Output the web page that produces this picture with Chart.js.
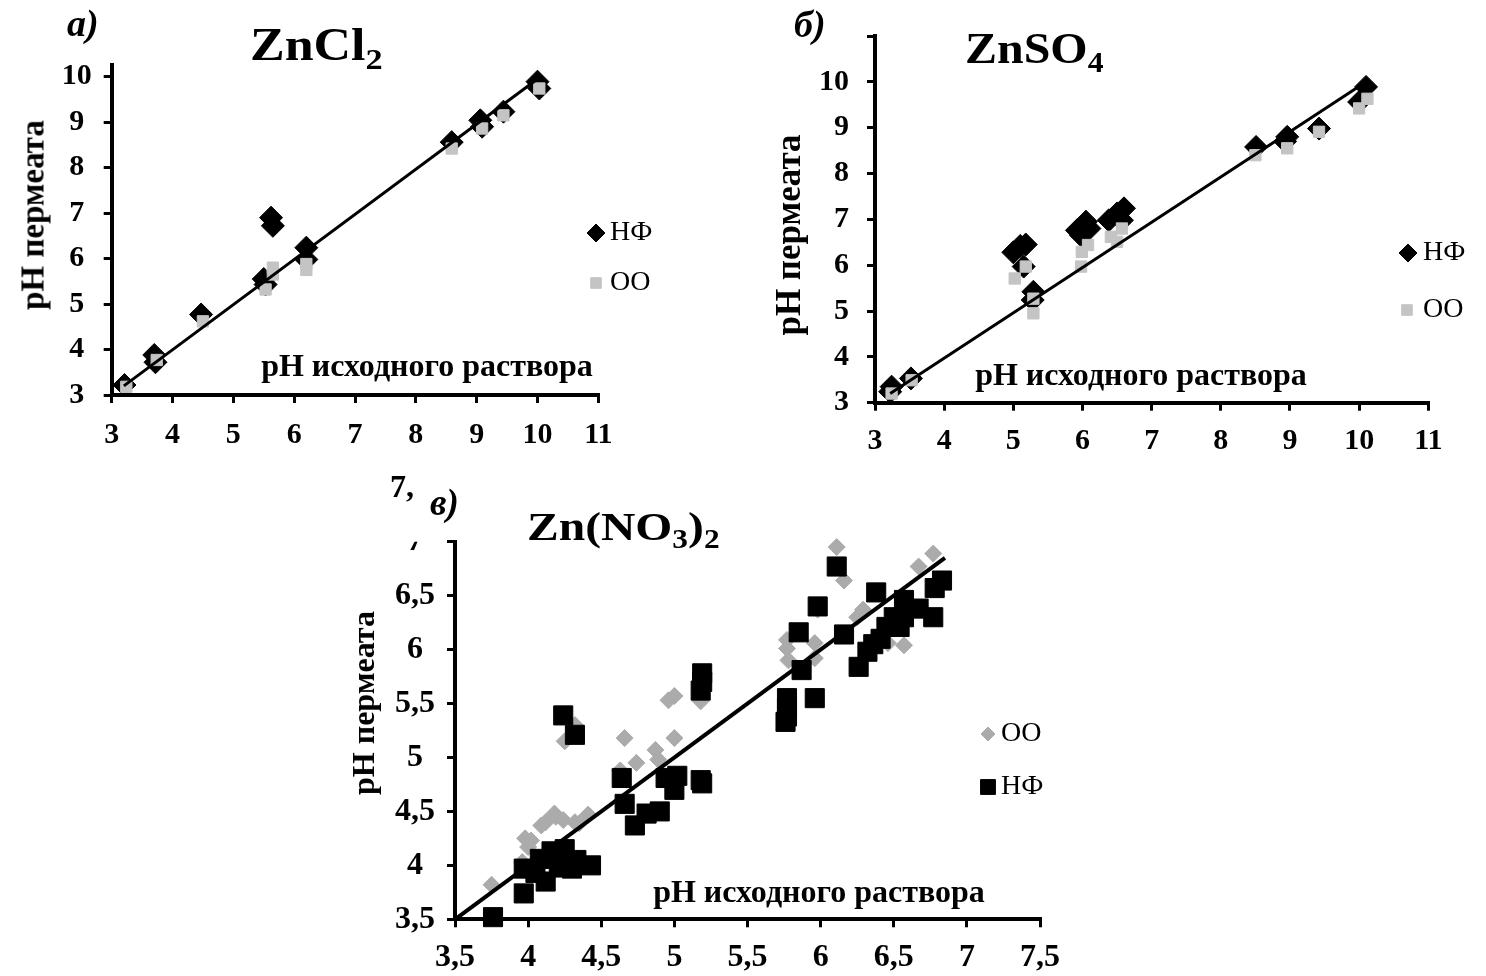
<!DOCTYPE html>
<html>
<head>
<meta charset="utf-8">
<script src="https://cdn.jsdelivr.net/npm/chart.js@4/dist/chart.umd.min.js"></script>
<style>
  html, body { margin: 0; padding: 0; background: #fff; }
  #page { position: relative; width: 1486px; height: 976px; overflow: hidden; background: #fff;
          font-family: 'Liberation Serif', 'Times New Roman', serif; color: #000; }
  #page canvas { position: absolute; left: 0; top: 0; }
  .t { position: absolute; white-space: nowrap; font-weight: bold; line-height: 1; z-index: 5; }
  .it { font-style: italic; }
  .sub { font-size: 0.66em; position: relative; top: 0.3em; }
  .cx { transform: translate(-50%, -50%); }
  .ry { transform: translate(-50%, -50%) rotate(-90deg); }
  .wide { transform-origin: 0 50%; }
</style>
</head>
<body>
<div id="page">
  <canvas id="cZnCl2" width="1486" height="976"></canvas>
  <canvas id="cZnSO4" width="1486" height="976"></canvas>
  <canvas id="cZnNO3" width="1486" height="976"></canvas>

  <!-- panel а -->
  <div class="t it" style="left:67px;top:4px;font-size:38px">а)</div>
  <div class="t wide" style="left:250px;top:22px;font-size:46px;transform:scaleX(1.13)">ZnCl<span class="sub">2</span></div>
  <div class="t ry" style="left:33px;top:215px;font-size:33px">pH пермеата</div>
  <div class="t cx" style="left:427px;top:365px;font-size:32px">pH исходного раствора</div>

  <!-- panel б -->
  <div class="t it" style="left:794px;top:5px;font-size:38px">б)</div>
  <div class="t wide" style="left:965px;top:27px;font-size:44px;transform:scaleX(1.09)">ZnSO<span class="sub">4</span></div>
  <div class="t ry" style="left:788px;top:235px;font-size:35px">pH пермеата</div>
  <div class="t cx" style="left:1141px;top:374px;font-size:32px">pH исходного раствора</div>

  <!-- panel в -->
  <div class="t" style="left:390px;top:470px;font-size:32px">7,</div>
  <div class="t it" style="left:430px;top:484px;font-size:37px">в)</div>
  <div class="t wide" style="left:527px;top:506px;font-size:41px;transform:scaleX(1.16)">Zn(NO<span class="sub">3</span>)<span class="sub">2</span></div>
  <div class="t ry" style="left:363px;top:703px;font-size:32px">pH пермеата</div>
  <div class="t cx" style="left:819px;top:891px;font-size:32px">pH исходного раствора</div>
</div>

<script>
// ---------- а) ZnCl2 ----------
const clNfX = [3.21, 3.70, 3.72, 4.47, 5.50, 5.53, 5.62, 5.65, 6.20, 6.20, 8.59, 9.06, 9.09, 9.44, 10.00, 10.03];
const clNfY = [3.22, 3.88, 3.72, 4.77, 5.55, 5.43, 6.90, 6.72, 6.24, 5.98, 8.56, 9.04, 8.90, 9.23, 9.89, 9.74];
const clOoX = [3.24, 3.74, 4.50, 5.53, 5.65, 5.65, 6.20, 6.20, 8.59, 9.09, 9.44, 10.03];
const clOoY = [3.18, 3.77, 4.62, 5.32, 5.80, 5.65, 5.88, 5.75, 8.42, 8.86, 9.15, 9.74];
const clFitX = [3.20, 10.00];
const clFitY = [3.20, 9.95];
const clTicksX = [3, 4, 5, 6, 7, 8, 9, 10, 11];
const clLabelsX = ['3', '4', '5', '6', '7', '8', '9', '10', '11'];
const clTicksY = [3, 4, 5, 6, 7, 8, 9, 10];
const clLabelsY = ['3', '4', '5', '6', '7', '8', '9', '10'];
const clYMax = 10.25;

// ---------- б) ZnSO4 ----------
const soNfX = [3.22, 3.24, 3.52, 5.00, 5.10, 5.18, 5.15, 5.29, 5.28, 5.92, 6.05, 5.98, 6.10, 6.38, 6.50, 6.60, 6.57, 8.51, 8.96, 8.93, 9.42, 10.00, 10.10];
const soNfY = [3.24, 3.35, 3.53, 6.28, 6.42, 6.45, 5.97, 5.42, 5.24, 6.76, 6.95, 6.65, 6.80, 6.98, 7.13, 7.24, 6.98, 8.58, 8.80, 8.70, 8.98, 9.56, 9.89];
const soOoX = [3.24, 3.53, 5.02, 5.18, 5.29, 5.29, 5.98, 5.99, 6.08, 6.41, 6.50, 6.57, 8.50, 8.96, 9.42, 10.00, 10.12];
const soOoY = [3.20, 3.49, 5.71, 5.97, 5.27, 4.95, 5.97, 6.29, 6.44, 6.62, 6.51, 6.80, 8.40, 8.55, 8.91, 9.42, 9.63];
const soFitX = [3.22, 10.03];
const soFitY = [3.20, 9.93];
const soTicksX = [3, 4, 5, 6, 7, 8, 9, 10, 11];
const soLabelsX = ['3', '4', '5', '6', '7', '8', '9', '10', '11'];
const soTicksY = [3, 4, 5, 6, 7, 8, 9, 10, 11];
const soLabelsY = ['3', '4', '5', '6', '7', '8', '9', '10', ''];

// ---------- в) Zn(NO3)2 ----------
const noNfX = [3.76, 3.97, 3.97, 4.05, 4.08, 4.12, 4.16, 4.21, 4.25, 4.30, 4.33, 4.43,
               4.24, 4.32, 4.64, 4.66, 4.73, 4.81, 4.90, 4.94, 5.00, 5.02, 5.18, 5.19,
               5.19, 5.19, 5.18, 5.77, 5.77, 5.77, 5.76, 5.85, 5.87, 5.96, 5.98, 6.11,
               6.16, 6.26, 6.32, 6.36, 6.38, 6.41, 6.45, 6.50, 6.54, 6.57, 6.57, 6.67,
               6.77, 6.78, 6.83];
const noNfY = [3.52, 3.74, 3.97, 3.93, 4.06, 3.85, 4.13, 3.98, 4.15, 3.97, 4.05, 4.00,
               5.39, 5.21, 4.81, 4.57, 4.37, 4.48, 4.50, 4.81, 4.70, 4.83, 4.79, 4.76,
               5.78, 5.70, 5.62, 5.55, 5.46, 5.38, 5.33, 6.16, 5.81, 5.55, 6.40, 6.77,
               6.14, 5.84, 5.98, 6.05, 6.53, 6.10, 6.21, 6.30, 6.21, 6.46, 6.30, 6.38,
               6.30, 6.57, 6.64];
const noOoX = [3.75, 3.96, 3.98, 4.00, 4.02, 4.09, 4.12, 4.18, 4.19, 4.24, 4.32, 4.35, 4.41,
               4.25, 4.32, 4.63, 4.66, 4.74, 4.87, 4.89, 4.96, 5.00, 5.00, 5.18, 5.20,
               5.77, 5.77, 5.78, 5.85, 5.96, 5.96, 5.98, 6.11, 6.16, 6.25, 6.29, 6.46,
               6.57, 6.67, 6.77, 6.83];
const noOoY = [3.82, 4.03, 4.25, 4.17, 4.23, 4.37, 4.40, 4.48, 4.45, 4.42, 4.40, 4.39, 4.47,
               5.15, 5.30, 4.88, 5.18, 4.95, 5.07, 4.98, 5.53, 5.57, 5.18, 5.52, 5.78,
               6.09, 6.01, 5.90, 6.16, 6.06, 5.92, 6.37, 6.95, 6.64, 6.30, 6.37, 6.06,
               6.04, 6.77, 6.89, 7.14];
const noFitX = [3.50, 6.85];
const noFitY = [3.50, 6.85];
const noTicksX = [3.5, 4, 4.5, 5, 5.5, 6, 6.5, 7, 7.5];
const noLabelsX = ['3,5', '4', '4,5', '5', '5,5', '6', '6,5', '7', '7,5'];
const noTicksY = [3.5, 4, 4.5, 5, 5.5, 6, 6.5, 7];
const noLabelsY = ['3,5', '4', '4,5', '5', '5,5', '6', '6,5', '7'];

const PAGE_W = 1486, PAGE_H = 976;
const SERIF = "'Liberation Serif', 'Times New Roman', serif";
Chart.defaults.font.family = SERIF;
Chart.defaults.color = '#000';

const pts = (xs, ys) => xs.map((x, i) => ({ x: x, y: ys[i] }));

// legend drawn beside each plot: marker in the series style + caption
const sideLegend = {
  id: 'sideLegend',
  afterDraw(chart, args, opts) {
    const ctx = chart.ctx;
    (opts.items || []).forEach(it => {
      ctx.save();
      ctx.fillStyle = it.color;
      ctx.strokeStyle = it.color;
      ctx.lineWidth = 1;
      Chart.helpers.drawPoint(ctx, { pointStyle: it.style, radius: it.radius, rotation: 0, borderWidth: 1 }, it.x, it.y);
      ctx.fillStyle = '#000';
      ctx.font = it.size + 'px ' + SERIF;
      ctx.textBaseline = 'middle';
      ctx.textAlign = 'left';
      ctx.fillText(it.text, it.textX, it.y);
      ctx.restore();
    });
  }
};

// top y label of the nitrate plot is partly covered, only its foot shows
const topLabelCover = {
  id: 'topLabelCover',
  afterDraw(chart, args, opts) {
    if (opts.value === undefined) return;
    const s = chart.scales.y;
    const y = s.getPixelForValue(opts.value);
    const ctx = chart.ctx;
    ctx.save();
    ctx.fillStyle = '#fff';
    ctx.fillRect(s.right - 70, y - 24, 58, 24);
    ctx.restore();
  }
};

function axis(ticks, labels, min, max, fontSize, pad, cross) {
  return {
    type: 'linear',
    min: min,
    max: max,
    afterBuildTicks: s => { s.ticks = ticks.map(v => ({ value: v })); },
    ticks: {
      callback: (v, i) => labels[i],
      font: { size: fontSize, weight: 'bold', family: SERIF },
      color: '#000',
      padding: pad,
      crossAlign: cross,
      autoSkip: false,
      maxRotation: 0
    },
    grid: { display: true, drawOnChartArea: false, drawTicks: true, tickLength: 8, lineWidth: 3, color: '#000' },
    border: { display: true, width: 4, color: '#000' }
  };
}

function panel(id, area, sets, xAx, yAx, legendItems, cover) {
  return new Chart(document.getElementById(id), {
    type: 'scatter',
    data: { datasets: sets },
    options: {
      responsive: false,
      maintainAspectRatio: false,
      devicePixelRatio: 1,
      animation: false,
      events: [],
      layout: { padding: { left: 0, top: area.top, right: PAGE_W - area.right, bottom: 0 } },
      scales: {
        x: Object.assign(xAx, { position: 'bottom', afterFit: s => { s.height = PAGE_H - area.bottom; } }),
        y: Object.assign(yAx, { position: 'left', afterFit: s => { s.width = area.left; } })
      },
      plugins: {
        legend: { display: false },
        tooltip: { enabled: false },
        sideLegend: { items: legendItems },
        topLabelCover: cover || {}
      }
    },
    plugins: [sideLegend, topLabelCover]
  });
}

const BLACK = '#000000';
const LIGHT = '#c4c4c4';
const MID = '#ababab';

function fitLine(xs, ys, w) {
  return { data: pts(xs, ys), showLine: true, borderColor: BLACK, borderWidth: w, pointRadius: 0, fill: false, clip: false, order: 0 };
}
function marks(label, xs, ys, style, r, color, order) {
  return { label: label, data: pts(xs, ys), pointStyle: style, pointRadius: r, backgroundColor: color,
           borderColor: color, borderWidth: 1, showLine: false, clip: false, order: order };
}

// а) ZnCl2
panel('cZnCl2', { left: 111.7, right: 598.3, top: 65.3, bottom: 395 },
  [
    fitLine(clFitX, clFitY, 3),
    marks('ОО', clOoX, clOoY, 'rect', 8, LIGHT, 1),
    marks('НФ', clNfX, clNfY, 'rectRot', 11.5, BLACK, 2)
  ],
  axis(clTicksX, clLabelsX, 3, 11, 30, 14, 'near'),
  axis(clTicksY, clLabelsY, 3, clYMax, 30, 12, 'center'),
  [
    { style: 'rectRot', radius: 9, color: BLACK, x: 596, y: 233, text: 'НФ', textX: 610, size: 28 },
    { style: 'rect', radius: 7.5, color: LIGHT, x: 596, y: 283, text: 'ОО', textX: 610, size: 28 }
  ]);

// б) ZnSO4
panel('cZnSO4', { left: 875, right: 1428.3, top: 35.9, bottom: 402.7 },
  [
    fitLine(soFitX, soFitY, 3),
    marks('ОО', soOoX, soOoY, 'rect', 8, LIGHT, 1),
    marks('НФ', soNfX, soNfY, 'rectRot', 11.5, BLACK, 2)
  ],
  axis(soTicksX, soLabelsX, 3, 11, 30, 13, 'near'),
  axis(soTicksY, soLabelsY, 3, 11, 30, 18, 'near'),
  [
    { style: 'rectRot', radius: 9, color: BLACK, x: 1408, y: 253, text: 'НФ', textX: 1423, size: 28 },
    { style: 'rect', radius: 7.5, color: LIGHT, x: 1407, y: 310, text: 'ОО', textX: 1423, size: 28 }
  ]);

// в) Zn(NO3)2
panel('cZnNO3', { left: 455, right: 1040, top: 541.7, bottom: 919.3 },
  [
    fitLine(noFitX, noFitY, 4),
    marks('НФ', noNfX, noNfY, 'rect', 13.5, BLACK, 1),
    marks('ОО', noOoX, noOoY, 'rectRot', 8.5, MID, 2)
  ],
  axis(noTicksX, noLabelsX, 3.5, 7.5, 32, 11, 'near'),
  axis(noTicksY, noLabelsY, 3.5, 7, 32, 12, 'center'),
  [
    { style: 'rectRot', radius: 7, color: MID, x: 988, y: 734, text: 'ОО', textX: 1001, size: 28 },
    { style: 'rect', radius: 10.5, color: BLACK, x: 988, y: 787, text: 'НФ', textX: 1001, size: 28 }
  ],
  { value: 7 });
</script>
</body>
</html>
